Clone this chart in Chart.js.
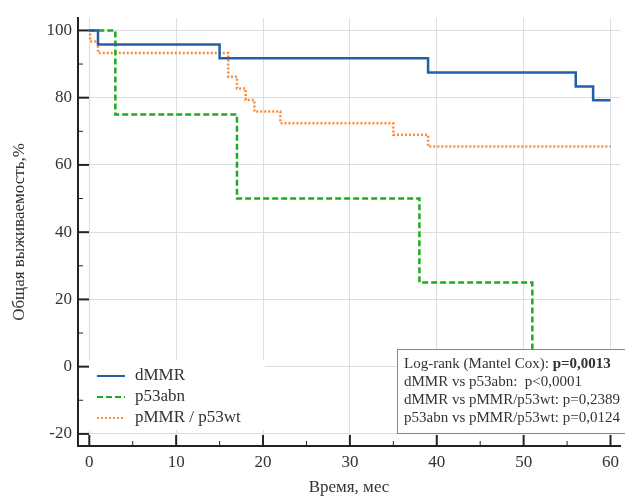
<!DOCTYPE html>
<html>
<head>
<meta charset="utf-8">
<script src="https://cdn.jsdelivr.net/npm/chart.js@4"></script>
<style>
  body { margin: 0; background: #fff; }
  #wrap { width: 625px; height: 496px; }
</style>
</head>
<body>
<div id="wrap"><canvas id="kmChart" width="625" height="496"></canvas></div>
<script>
// Kaplan-Meier curves, values (time in months, survival in %)
const dmmrTime = [0, 1, 15, 39, 56, 58, 60];
const dmmrSurv = [100, 95.8, 91.7, 87.5, 83.3, 79.2, 79.2];

const p53abnTime = [0, 3, 17, 38, 51, 51];
const p53abnSurv = [100, 75, 50, 25, 25, 0];

const pmmrTime = [0, 0.1, 1, 16, 17, 18, 19, 22, 35, 39, 60];
const pmmrSurv = [100, 96.7, 93.3, 86.2, 82.7, 79.3, 75.9, 72.4, 69.0, 65.5, 65.5];

const xTicks = [0, 10, 20, 30, 40, 50, 60];
const yTicks = [-20, 0, 20, 40, 60, 80, 100];
const xMinorTicks = [5, 15, 25, 35, 45, 55];
const yMinorTicks = [-10, 10, 30, 50, 70, 90];

const statLines = [
    ['Log-rank (Mantel Cox): ', 'p=0,0013'],
    ['dMMR vs p53abn:  p<0,0001', ''],
    ['dMMR vs pMMR/p53wt: p=0,2389', ''],
    ['p53abn vs pMMR/p53wt: p=0,0124', '']
];

const FONT = '"Liberation Serif", "Times New Roman", serif';
const TEXT = '#333';

function toPoints(times, surv) {
    return times.map((t, i) => ({ x: t, y: surv[i] }));
}

// inside tick marks (major + minor), drawn through the scales
const insideTicks = {
    id: 'insideTicks',
    afterDraw(chart) {
        const { ctx, chartArea, scales } = chart;
        ctx.save();
        ctx.strokeStyle = '#222';
        const drawX = (vals, len, w) => {
            ctx.lineWidth = w;
            vals.forEach(v => {
                const px = scales.x.getPixelForValue(v);
                ctx.beginPath();
                ctx.moveTo(px, chartArea.bottom);
                ctx.lineTo(px, chartArea.bottom - len);
                ctx.stroke();
            });
        };
        const drawY = (vals, len, w) => {
            ctx.lineWidth = w;
            vals.forEach(v => {
                const py = scales.y.getPixelForValue(v);
                ctx.beginPath();
                ctx.moveTo(chartArea.left, py);
                ctx.lineTo(chartArea.left + len, py);
                ctx.stroke();
            });
        };
        drawX(xTicks, 11, 2);
        drawX(xMinorTicks, 5, 1);
        drawY(yTicks, 11, 2);
        drawY(yMinorTicks, 5, 1);
        ctx.restore();
    }
};

// legend in the lower left corner and the p-value box
const overlays = {
    id: 'overlays',
    afterDatasetsDraw(chart) {
        const { ctx, chartArea } = chart;
        ctx.save();

        // legend
        ctx.fillStyle = '#fff';
        ctx.fillRect(chartArea.left + 2, 360, 185, 70);
        ctx.font = '17px ' + FONT;
        ctx.textBaseline = 'middle';
        chart.data.datasets.forEach((ds, i) => {
            const y = 376 + i * 21;
            ctx.strokeStyle = ds.borderColor;
            ctx.lineWidth = 2;
            ctx.setLineDash(ds.borderDash || []);
            ctx.beginPath();
            ctx.moveTo(97, y);
            ctx.lineTo(125, y);
            ctx.stroke();
            ctx.setLineDash([]);
            ctx.fillStyle = TEXT;
            ctx.fillText(ds.label, 135, y);
        });

        // stats box
        ctx.fillStyle = '#fff';
        ctx.fillRect(397, 349, 240, 84);
        ctx.strokeStyle = '#888';
        ctx.lineWidth = 1;
        ctx.strokeRect(397.5, 349.5, 240, 84);
        ctx.fillStyle = TEXT;
        statLines.forEach((ln, i) => {
            const y = 364 + i * 18;
            ctx.font = '15px ' + FONT;
            ctx.fillText(ln[0], 404, y);
            if (ln[1]) {
                const w = ctx.measureText(ln[0]).width;
                ctx.font = 'bold 15px ' + FONT;
                ctx.fillText(ln[1], 404 + w, y);
            }
        });
        ctx.restore();
    }
};

new Chart(document.getElementById('kmChart'), {
    type: 'line',
    data: {
        datasets: [
            {
                label: 'dMMR',
                data: toPoints(dmmrTime, dmmrSurv),
                borderColor: '#2160a8',
                borderWidth: 2.5,
                stepped: true
            },
            {
                label: 'p53abn',
                data: toPoints(p53abnTime, p53abnSurv),
                borderColor: '#1faa1f',
                borderWidth: 2.5,
                borderDash: [6, 3],
                stepped: true
            },
            {
                label: 'pMMR / p53wt',
                data: toPoints(pmmrTime, pmmrSurv),
                borderColor: '#ff8a33',
                borderWidth: 2.5,
                borderDash: [2, 2],
                stepped: true
            }
        ]
    },
    options: {
        responsive: false,
        animation: false,
        layout: { padding: { top: 18, right: 0, left: 0, bottom: 0 } },
        elements: { point: { radius: 0 }, line: { fill: false, tension: 0 } },
        plugins: { legend: { display: false }, tooltip: { enabled: false } },
        scales: {
            x: {
                type: 'linear',
                min: -1.3,
                max: 61.1,
                afterBuildTicks: scale => { scale.ticks = xTicks.map(v => ({ value: v })); },
                afterFit: scale => { scale.height = 50; },
                ticks: { color: TEXT, font: { family: FONT, size: 17 }, padding: 6 },
                grid: { color: '#dedede', drawTicks: false },
                border: { display: true, color: '#222', width: 2, dash: [] },
                title: {
                    display: true,
                    text: 'Время, мес',
                    color: TEXT,
                    font: { family: FONT, size: 17, lineHeight: 1 },
                    padding: { top: 0, bottom: 0 }
                }
            },
            y: {
                min: -23.6,
                max: 103.7,
                afterBuildTicks: scale => { scale.ticks = yTicks.map(v => ({ value: v })); },
                afterFit: scale => { scale.width = 78; },
                ticks: { color: TEXT, font: { family: FONT, size: 17 }, padding: 6 },
                grid: { color: '#dedede', drawTicks: false },
                border: { display: true, color: '#222', width: 2 },
                title: {
                    display: true,
                    text: 'Общая выживаемость,%',
                    color: TEXT,
                    font: { family: FONT, size: 17, lineHeight: 1 },
                    padding: { top: 11, bottom: 0 }
                }
            }
        }
    },
    plugins: [insideTicks, overlays]
});
</script>
</body>
</html>
